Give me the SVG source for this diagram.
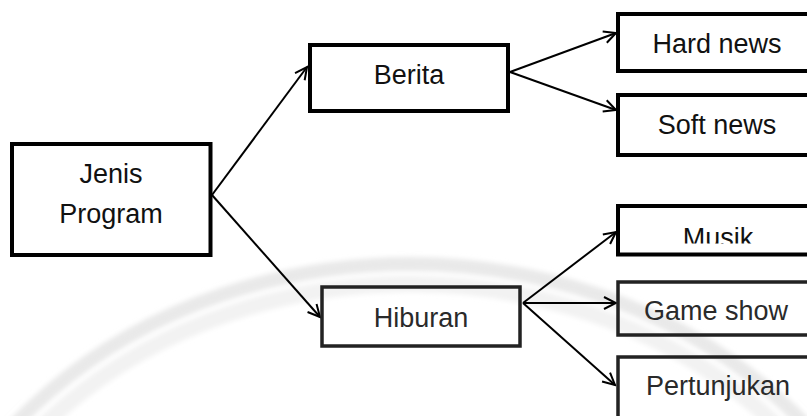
<svg xmlns="http://www.w3.org/2000/svg" width="807" height="416" viewBox="0 0 807 416">
<style>
.box{fill:none;stroke:#000;stroke-width:4}
.boxl{fill:none;stroke:#222;stroke-width:3.5}
.t{font-family:"Liberation Sans",Arial,sans-serif;font-size:27px;fill:#111;text-anchor:middle}
.tl{fill:#2a2a2a}
.c{stroke:#000;stroke-width:2;fill:none;marker-end:url(#arr)}
</style>
<defs>
<marker id="arr" viewBox="-14 -8 16 16" refX="0" refY="0" markerWidth="16" markerHeight="16" markerUnits="userSpaceOnUse" orient="auto">
<path d="M-12,-6 L0,0 L-12,6" fill="none" stroke="#000" stroke-width="2"/>
</marker>
<clipPath id="clipMusik"><rect x="600" y="200" width="220" height="43.5"/></clipPath>
<filter id="soft" x="-10%" y="-10%" width="120%" height="120%"><feGaussianBlur stdDeviation="2.5"/></filter>
</defs>
<rect width="807" height="416" fill="#fff"/>
<g id="watermark" fill="none" filter="url(#soft)">
<ellipse cx="410" cy="700" rx="510" ry="436" stroke="#e9e9e9" stroke-width="14"/>
<ellipse cx="410" cy="700" rx="488" ry="416" stroke="#f2f2f2" stroke-width="16"/>
</g>
<g id="connectors">
<line class="c" x1="212" y1="195" x2="307" y2="67"/>
<line class="c" x1="212" y1="195" x2="320" y2="317" stroke-width="1.6"/>
<line class="c" x1="510" y1="72" x2="616" y2="33"/>
<line class="c" x1="510" y1="72" x2="616" y2="110"/>
<line class="c" x1="523" y1="303" x2="616" y2="232"/>
<line class="c" x1="523" y1="303" x2="616" y2="303"/>
<line class="c" x1="523" y1="303" x2="615" y2="385"/>
</g>
<g id="jenis">
<rect class="box" x="12" y="144" width="198.5" height="111"/>
<text class="t" x="111" y="183">Jenis</text>
<text class="t" x="111" y="223">Program</text>
</g>
<g id="berita">
<rect class="box" x="310" y="45" width="198" height="66"/>
<text class="t" x="409" y="84">Berita</text>
</g>
<g id="hardnews">
<rect class="box" x="618" y="14" width="200" height="57"/>
<text class="t" x="717" y="53">Hard news</text>
</g>
<g id="softnews">
<rect class="box" x="618" y="95" width="200" height="60"/>
<text class="t" x="717" y="134">Soft news</text>
</g>
<g id="hiburan">
<rect class="boxl" x="322" y="287" width="198" height="59"/>
<text class="t tl" x="421" y="327">Hiburan</text>
</g>
<g id="musik">
<rect class="box" x="618" y="206" width="200" height="48.5"/>
<text class="t" x="718" y="247" clip-path="url(#clipMusik)">Musik</text>
</g>
<g id="gameshow">
<rect class="boxl" x="618" y="282" width="200" height="53"/>
<text class="t tl" x="716" y="320">Game show</text>
</g>
<g id="pertunjukan">
<rect class="boxl" x="618" y="357" width="200" height="100"/>
<text class="t tl" x="718" y="395">Pertunjukan</text>
</g>
</svg>
